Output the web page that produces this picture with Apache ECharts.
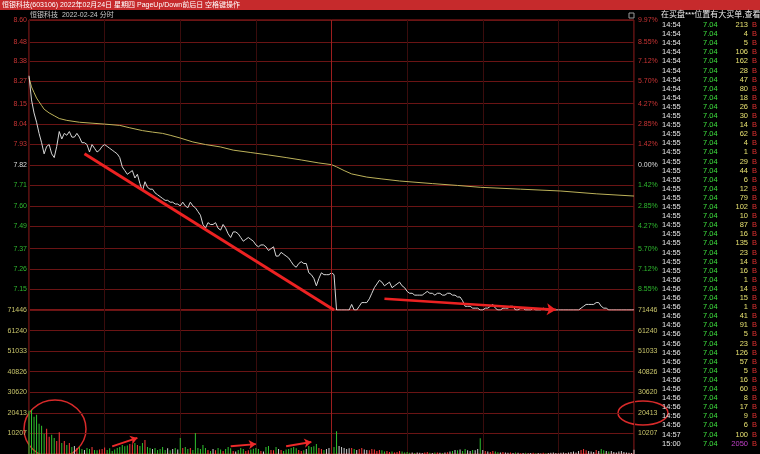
<!DOCTYPE html>
<html><head><meta charset="utf-8">
<script src="https://cdn.jsdelivr.net/npm/echarts@6/dist/echarts.min.js"></script>
<style>html,body{margin:0;padding:0;background:#000;}#c{width:760px;height:454px;}</style>
</head><body><div id="c"></div>
<script>
// ---------- data ----------
const stockTitle = '恒银科技(603106) 2022年02月24日 星期四 PageUp/Down前后日 空格键操作';
const chartSubtitle = '恒银科技  2022-02-24 分时';
const tradeHeader = '在买盘***位置有大买单,查看';
const prevClose = 7.82;
const openPrice = 8.33;
const priceMin = 7.04, priceMax = 8.60;
const priceTicks = [7.04,7.15,7.26,7.37,7.49,7.60,7.71,7.82,7.93,8.04,8.15,8.27,8.38,8.48,8.60];
const priceTickLabels = ['','7.15','7.26','7.37','7.49','7.60','7.71','7.82','7.93','8.04','8.15','8.27','8.38','8.48','8.60'];
const pctTickLabels = ['','8.55%','7.12%','5.70%','4.27%','2.85%','1.42%','0.00%','1.42%','2.85%','4.27%','5.70%','7.12%','8.55%','9.97%'];
const volMin = 0, volMax = 71446;
const volTicks = [10207,20413,30620,40826,51033,61240,71446];

const prices = [
8.30,8.17,8.10,8.05,7.99,7.94,7.88,7.92,7.93,7.88,
7.86,7.92,8.00,7.96,7.99,7.98,8.00,7.97,7.97,7.99,
7.97,7.94,7.94,7.93,7.89,7.93,7.91,7.89,7.90,7.92,
7.93,7.92,7.91,7.90,7.89,7.88,7.86,7.81,7.79,7.77,
7.78,7.79,7.75,7.77,7.72,7.68,7.73,7.70,7.69,7.69,
7.67,7.66,7.65,7.64,7.63,7.63,7.62,7.62,7.61,7.61,
7.60,7.62,7.60,7.59,7.62,7.60,7.59,7.57,7.55,7.50,
7.48,7.51,7.50,7.50,7.51,7.48,7.47,7.50,7.48,7.45,
7.43,7.46,7.46,7.45,7.43,7.41,7.42,7.43,7.42,7.41,
7.39,7.38,7.39,7.39,7.38,7.36,7.37,7.38,7.33,7.33,
7.35,7.34,7.33,7.32,7.30,7.28,7.27,7.29,7.30,7.29,
7.29,7.24,7.23,7.21,7.17,7.21,7.24,7.23,7.23,7.23,
7.24,7.23,7.04,7.04,7.04,7.04,7.04,7.04,7.07,7.04,
7.04,7.06,7.08,7.08,7.08,7.10,7.13,7.16,7.18,7.20,
7.19,7.17,7.18,7.19,7.16,7.17,7.18,7.19,7.17,7.16,
7.14,7.13,7.13,7.12,7.12,7.12,7.12,7.13,7.14,7.13,
7.13,7.12,7.13,7.13,7.12,7.12,7.13,7.13,7.12,7.12,
7.11,7.11,7.09,7.06,7.06,7.06,7.05,7.05,7.05,7.04,
7.04,7.05,7.05,7.06,7.07,7.05,7.04,7.04,7.05,7.05,
7.05,7.06,7.06,7.04,7.04,7.05,7.05,7.04,7.04,7.04,
7.05,7.04,7.04,7.04,7.05,7.04,7.04,7.04,7.04,7.04,
7.04,7.04,7.04,7.04,7.04,7.04,7.04,7.04,7.04,7.05,
7.06,7.07,7.07,7.07,7.07,7.08,7.08,7.06,7.05,7.05,
7.04,7.04,7.04,7.04,7.04,7.04,7.04,7.04,7.04,7.04,
7.04];

const avgPoints = [[0,8.29],[1,8.24],[2,8.21],[3,8.18],[4,8.16],[5,8.14],[6,8.12],[8,8.10],[10,8.085],[12,8.07],
[15,8.06],[20,8.05],[25,8.045],[30,8.04],[36,8.033],[40,8.02],[45,8.005],[49,7.997],[53,7.99],[56,7.98],
[60,7.965],[65,7.944],[70,7.93],[76,7.917],[81,7.90],[88,7.887],[95,7.874],[102,7.86],[108,7.847],[115,7.831],
[120,7.822],[122,7.81],[125,7.79],[128,7.772],[134,7.755],[140,7.745],[147,7.734],[160,7.72],[170,7.71],[179,7.70],
[195,7.69],[211,7.68],[225,7.665],[240,7.653]];

const volumes = [
21500,22000,18500,19500,15000,14000,10000,12500,8500,9500,
8000,6500,10800,5500,6500,4500,5500,3500,4000,3000,
3500,2500,2000,3000,2500,3500,2000,1800,2200,2500,
3200,2000,2800,1500,2200,3000,3500,4500,3800,4200,
5000,4800,5500,4500,4000,5500,7000,3500,3000,2500,
3000,2000,2500,3500,2000,2800,1800,2500,3000,2200,
8000,3000,3500,2500,3000,2000,10400,3000,2500,4500,
3000,2000,1500,2500,1800,3000,2200,1500,2500,3500,
2800,1500,1200,2000,3000,2500,1500,1800,2200,2600,
3000,2500,1500,1200,3500,4000,2000,1800,3500,2500,
2000,1500,2200,2500,3000,3500,2800,2000,1500,1800,
2500,4000,3500,3800,5000,3000,2500,2000,2500,3000,
4500,3500,11300,4000,3500,3000,2500,2800,3000,2500,
2000,2500,3000,2200,2000,1800,2500,2200,1500,2000,
1800,1200,1500,1000,1200,800,1000,1500,1200,800,
1000,600,800,500,700,600,500,800,1000,600,
500,700,800,600,500,700,900,1200,1500,2000,
1800,2200,1500,2500,1800,1500,2000,1800,2500,7800,
2000,1500,1200,1000,1500,1200,900,800,1000,700,
600,800,500,700,600,400,500,600,400,500,
600,400,500,300,600,400,500,600,800,500,
400,600,700,500,800,1000,1200,800,1500,2000,
2500,1800,1500,1200,1000,2000,1500,2500,1800,1500,
1200,1500,1000,800,1200,1500,1000,800,600,500,
2050];

const tradeTimes = ['14:54','14:54','14:54','14:54','14:54','14:54','14:54','14:54','14:54',
'14:55','14:55','14:55','14:55','14:55','14:55','14:55','14:55','14:55','14:55','14:55','14:55','14:55','14:55','14:55','14:55','14:55','14:55','14:55',
'14:56','14:56','14:56','14:56','14:56','14:56','14:56','14:56','14:56','14:56','14:56','14:56','14:56','14:56','14:56','14:56','14:56',
'14:57','15:00'];
const tradePrices = Array(47).fill('7.04');
const tradeVols = [213,4,5,106,162,28,47,80,18,
26,30,14,62,4,1,29,44,6,12,79,102,10,87,16,135,23,14,16,
1,14,15,1,41,91,5,23,126,57,5,16,60,8,17,9,6,
100,2050];
const tradeSides = Array(47).fill('B');

// annotation (hand-drawn marks) in data coordinates [minuteIndex, value]
const trendLine1 = [[22,7.88],[121,7.04]];
const trendLine2 = [[141,7.10],[209,7.041]];
const volArrows = [[[33,3800],[43,8000]],[[80,3900],[90,4900]],[[102,3900],[112,5900]]];

// ---------- chart ----------
const times = prices.map((_, i) => {
  const m = i <= 120 ? 570 + i : 780 + (i - 120);
  return Math.floor(m / 60) + ':' + String(m % 60).padStart(2, '0');
});
const FONT = '"Liberation Sans","Noto Sans CJK SC",sans-serif';
const RED = '#c83434', GREEN = '#2eb82e', WHITE = '#dedede', YEL = '#c8c46a';
const GRIDLINE = '#6a1414', VLINE = '#3a0c0c', BORDER = '#a41e1e';

function nearestIdx(arr, v) {
  let b = 0; for (let i = 1; i < arr.length; i++) if (Math.abs(arr[i] - v) < Math.abs(arr[b] - v)) b = i; return b;
}
const richCols = {
  up: {color: RED, fontSize: 7, fontFamily: FONT},
  dn: {color: GREEN, fontSize: 7, fontFamily: FONT},
  eq: {color: WHITE, fontSize: 7, fontFamily: FONT},
  vol: {color: YEL, fontSize: 7, fontFamily: FONT}
};
function clsOf(k) { return k > 7 ? 'up' : (k < 7 ? 'dn' : 'eq'); }

const volData = volumes.map((v, i) => {
  const ref = i === 0 ? openPrice : prices[i - 1];
  const c = prices[i] > ref ? '#ff3a3a' : (prices[i] < ref ? '#2fc22f' : '#cfcfcf');
  return {value: v, itemStyle: {color: c}};
});

const xAxisBase = {
  type: 'category', data: times, boundaryGap: false,
  axisLabel: {show: false}, axisTick: {show: false}, axisLine: {show: false},
  splitLine: {show: true, interval: (i) => i % 30 === 0, lineStyle: {color: VLINE, width: 1}}
};

const graphics = [
  {type: 'rect', shape: {x: 0, y: 0, width: 760, height: 10}, style: {fill: '#c62a2c'}, silent: true},
  {type: 'text', x: 2, y: 5, style: {text: stockTitle, fill: '#ffffff', font: '7px ' + FONT, textVerticalAlign: 'middle'}},
  {type: 'text', x: 30, y: 15, style: {text: chartSubtitle, fill: '#c8c8c8', font: '7px ' + FONT, textVerticalAlign: 'middle'}},
  {type: 'text', x: 661, y: 15, style: {text: tradeHeader, fill: '#eeeeee', font: '8px ' + FONT, textVerticalAlign: 'middle'}},
  {type: 'rect', shape: {x: 629, y: 13, width: 5, height: 5}, style: {fill: 'none', stroke: '#9a9a9a', lineWidth: 1}},
  {type: 'ellipse', shape: {cx: 55, cy: 429, rx: 31, ry: 29}, style: {fill: 'none', stroke: '#d82a2a', lineWidth: 1.5}},
  {type: 'ellipse', shape: {cx: 643, cy: 413, rx: 25, ry: 12}, style: {fill: 'none', stroke: '#d82a2a', lineWidth: 1.5}}
];
tradeTimes.forEach((t, i) => {
  const y = 25 + i * 9.1;
  graphics.push({type: 'text', x: 662, y: y, style: {text: t, fill: '#e6e6e6', font: '7.5px ' + FONT, textVerticalAlign: 'middle'}});
  graphics.push({type: 'text', x: 703, y: y, style: {text: tradePrices[i], fill: '#3ee03e', font: '7.5px ' + FONT, textVerticalAlign: 'middle'}});
  graphics.push({type: 'text', x: 748, y: y, style: {text: String(tradeVols[i]), fill: i === tradeVols.length - 1 ? '#c040c8' : '#e6e070', font: '7.5px ' + FONT, textAlign: 'right', textVerticalAlign: 'middle'}});
  graphics.push({type: 'text', x: 752, y: y, style: {text: tradeSides[i], fill: '#e03030', font: '7.5px ' + FONT, textVerticalAlign: 'middle'}});
});

const middayLine = {xAxis: 120, lineStyle: {color: '#9c1e1e', width: 1, type: 'solid'}};

const option = {
  backgroundColor: '#000',
  animation: false,
  textStyle: {fontFamily: FONT},
  grid: [
    {left: 29, right: 126, top: 20, height: 290, show: true, borderColor: BORDER, borderWidth: 1, backgroundColor: 'transparent'},
    {left: 29, right: 126, top: 310, height: 145, show: true, borderColor: BORDER, borderWidth: 1, backgroundColor: 'transparent'}
  ],
  xAxis: [Object.assign({gridIndex: 0}, xAxisBase), Object.assign({gridIndex: 1}, xAxisBase)],
  yAxis: [
    {gridIndex: 0, type: 'value', position: 'left', min: priceMin, max: priceMax,
     axisLine: {show: false}, axisTick: {show: false, customValues: priceTicks},
     splitLine: {show: true, lineStyle: {color: GRIDLINE}},
     axisLabel: {customValues: priceTicks, margin: 2, fontSize: 7, rich: richCols,
       formatter: (v) => { const k = nearestIdx(priceTicks, +v); const l = priceTickLabels[k]; return l ? '{' + clsOf(k) + '|' + l + '}' : ''; }}},
    {gridIndex: 0, type: 'value', position: 'right', min: priceMin, max: priceMax,
     axisLine: {show: false}, axisTick: {show: false, customValues: priceTicks}, splitLine: {show: false},
     axisLabel: {customValues: priceTicks, margin: 4, fontSize: 7, rich: richCols,
       formatter: (v) => { const k = nearestIdx(priceTicks, +v); const l = pctTickLabels[k]; return l ? '{' + clsOf(k) + '|' + l + '}' : ''; }}},
    {gridIndex: 1, type: 'value', position: 'left', min: volMin, max: volMax,
     axisLine: {show: false}, axisTick: {show: false, customValues: volTicks},
     splitLine: {show: true, lineStyle: {color: GRIDLINE}},
     axisLabel: {customValues: volTicks, margin: 2, fontSize: 7, rich: richCols, formatter: (v) => '{vol|' + v + '}'}},
    {gridIndex: 1, type: 'value', position: 'right', min: volMin, max: volMax,
     axisLine: {show: false}, axisTick: {show: false, customValues: volTicks}, splitLine: {show: false},
     axisLabel: {customValues: volTicks, margin: 4, fontSize: 7, rich: richCols, formatter: (v) => '{vol|' + v + '}'}}
  ],
  series: [
    {type: 'line', name: 'avg', xAxisIndex: 0, yAxisIndex: 0, data: avgPoints, symbol: 'none', smooth: false,
     lineStyle: {color: '#bdb25a', width: 1}, silent: true, z: 3},
    {type: 'line', name: 'price', xAxisIndex: 0, yAxisIndex: 0, data: prices, symbol: 'none',
     lineStyle: {color: '#d6d6d6', width: 1}, silent: true, z: 4,
     markLine: {silent: true, symbol: ['none', 'none'], label: {show: false}, animation: false,
       data: [
         middayLine,
         [{coord: trendLine1[0], lineStyle: {color: '#ec2222', width: 3, type: 'solid'}}, {coord: trendLine1[1]}],
         [{coord: trendLine2[0], lineStyle: {color: '#ec2222', width: 2.5, type: 'solid'}}, {coord: trendLine2[1], symbol: 'arrow', symbolSize: 9}]
       ]}},
    {type: 'bar', name: 'vol', xAxisIndex: 1, yAxisIndex: 2, data: volData, barWidth: 1, silent: true,
     markLine: {silent: true, symbol: ['none', 'none'], label: {show: false}, animation: false,
       data: [middayLine].concat(
         volArrows.map(a => [{coord: a[0], lineStyle: {color: '#ec2a2a', width: 2, type: 'solid'}}, {coord: a[1], symbol: 'arrow', symbolSize: 7}]))}}
  ],
  graphic: graphics
};
const chart = echarts.init(document.getElementById('c'), null, {renderer: 'canvas'});
chart.setOption(option);
</script></body></html>
